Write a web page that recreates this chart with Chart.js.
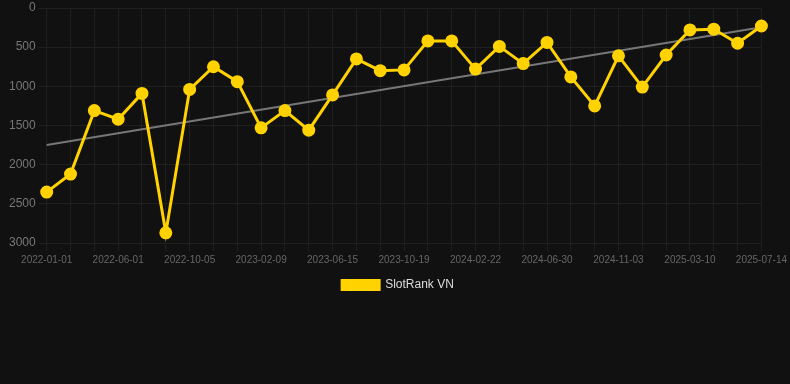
<!DOCTYPE html>
<html>
<head>
<meta charset="utf-8">
<script src="https://cdn.jsdelivr.net/npm/chart.js@4"></script>
<style>
  html, body { margin: 0; padding: 0; background: #111111; }
  #wrap { position: relative; width: 790px; height: 301px; }
</style>
</head>
<body>
<div id="wrap"><canvas id="myChart"></canvas></div>
<script>
// dates of each ranking sample
const dates = [
  "2022-01-01", "2022-02-15", "2022-04-01", "2022-06-01", "2022-07-13", "2022-08-24",
  "2022-10-05", "2022-11-16", "2022-12-28", "2023-02-09", "2023-03-23", "2023-05-04",
  "2023-06-15", "2023-07-27", "2023-09-07", "2023-10-19", "2023-11-30", "2024-01-11",
  "2024-02-22", "2024-04-04", "2024-05-17", "2024-06-30", "2024-08-11", "2024-09-22",
  "2024-11-03", "2024-12-15", "2025-01-26", "2025-03-10", "2025-04-21", "2025-06-02",
  "2025-07-14",
];

// rank values (lower is better, axis is reversed)
const ranks = [
  2350, 2120, 1310, 1420, 1090, 2870, 1040, 750, 940, 1530, 1310, 1560,
  1110, 650, 800, 790, 420, 420, 780, 490, 710, 440, 880, 1250,
  610, 1010, 600, 280, 270, 450, 230,
];

// trend line ends
const trendStart = 1750;
const trendEnd = 245;

const yTicks = [0, 500, 1000, 1500, 2000, 2500, 3000];

const trend = dates.map((d, i) =>
  i === 0 ? trendStart : i === dates.length - 1 ? trendEnd : null
);

const ctx = document.getElementById("myChart").getContext("2d");

const aChart = new Chart(ctx, {
  type: "line",
  data: {
    labels: dates,
    datasets: [
      {
        label: "SlotRank VN",
        data: ranks,
        borderColor: "#ffd200",
        backgroundColor: "#ffd200",
        borderWidth: 3,
        pointRadius: 5,
        pointHoverRadius: 5,
        tension: 0,
        fill: false,
      },
      {
        label: "trend",
        data: trend,
        borderColor: "#777777",
        borderWidth: 2,
        pointRadius: 0,
        spanGaps: true,
        fill: false,
      },
    ],
  },
  options: {
    responsive: true,
    maintainAspectRatio: false,
    animation: false,
    layout: { padding: { top: 0, left: 6, right: 0, bottom: 0 } },
    scales: {
      x: {
        grid: { color: "#1f1f1f" },
        border: { color: "#1f1f1f" },
        ticks: {
          color: "#666666",
          font: { family: "Liberation Sans", size: 10 },
          autoSkip: false,
          maxRotation: 0,
          callback: function (v, i) {
            return i % 3 === 0 ? this.getLabelForValue(v) : "";
          },
        },
      },
      y: {
        reverse: true,
        min: 0,
        max: 3000,
        afterBuildTicks: (axis) => {
          axis.ticks = yTicks.map((v) => ({ value: v }));
        },
        afterFit: (axis) => {
          axis.paddingTop = 4;
        },
        grid: { color: "#1f1f1f" },
        border: { color: "#1f1f1f" },
        ticks: {
          color: "#777777",
          font: { family: "Liberation Sans", size: 12 },
          callback: (v) => String(v),
        },
      },
    },
    plugins: {
      legend: {
        position: "bottom",
        labels: {
          color: "#dddddd",
          font: { family: "Liberation Sans", size: 12 },
          boxWidth: 37,
          boxHeight: 9,
          filter: (item) => item.text !== "trend",
        },
      },
      tooltip: { enabled: false },
    },
  },
});
</script>
</body>
</html>
